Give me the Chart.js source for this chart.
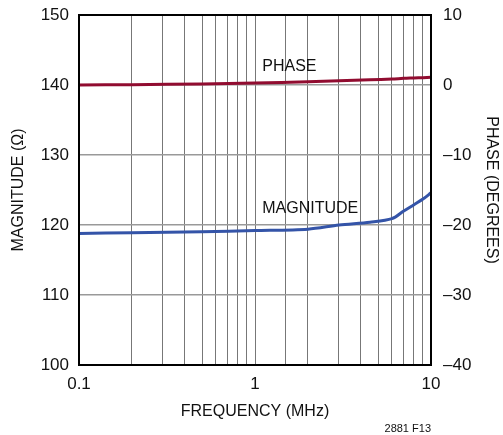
<!DOCTYPE html>
<html>
<head>
<meta charset="utf-8">
<script src="https://cdn.jsdelivr.net/npm/chart.js@4"></script>
<style>
  html, body { margin: 0; padding: 0; background: #fff; }
  #wrap { width: 503px; height: 435px; }
</style>
</head>
<body>
<div id="wrap"><canvas id="chart" width="503" height="435"></canvas></div>
<script>
// Frequency points (MHz)
const freq = [0.1, 0.2, 0.5, 1, 2, 3, 4.5, 6, 7, 8, 9, 10];
// Magnitude (ohms)
const magnitude = [118.8, 118.9, 119.05, 119.2, 119.4, 120.0, 120.4, 120.9, 122.0, 122.9, 123.7, 124.6];
// Phase (degrees)
const phase = [0.0, 0.05, 0.15, 0.3, 0.45, 0.6, 0.75, 0.85, 0.95, 1.0, 1.05, 1.1];

const leftTicks = [100, 110, 120, 130, 140, 150];
const rightTicks = [-40, -30, -20, -10, 0, 10];
const xLabels = [0.1, 1, 10];

const FONT = "'Liberation Sans Narrow', 'Liberation Sans', Arial, sans-serif";

const toPts = (ys) => freq.map((f, i) => ({ x: f, y: ys[i] }));

// fixed axis box sizes, no label overhang padding
const fixY = (w) => (s) => { s.width = w; s.paddingTop = 0; s.paddingBottom = 0; };

// Frame + curve labels
const extras = {
    id: "extras",
    afterDraw(chart) {
        const { ctx, chartArea: a, scales } = chart;
        ctx.save();
        ctx.strokeStyle = "#000";
        ctx.lineWidth = 2;
        ctx.strokeRect(a.left, a.top, a.right - a.left, a.bottom - a.top);

        ctx.fillStyle = "#111";
        ctx.font = "16px " + FONT;
        ctx.textBaseline = "middle";
        ctx.textAlign = "left";
        ctx.fillText("PHASE", scales.x.getPixelForValue(1.1), scales.y2.getPixelForValue(2.7));
        ctx.fillText("MAGNITUDE", scales.x.getPixelForValue(1.1), scales.y.getPixelForValue(122.3));

        ctx.font = "11px " + FONT;
        ctx.textAlign = "right";
        ctx.fillText("2881 F13", a.right, 429);
        ctx.restore();
    }
};

new Chart(document.getElementById("chart"), {
    type: "line",
    data: {
        datasets: [
            {
                label: "Magnitude",
                data: toPts(magnitude),
                yAxisID: "y",
                borderColor: "rgb(52, 84, 168)",
                borderWidth: 3,
                pointRadius: 0,
                tension: 0.3,
            },
            {
                label: "Phase",
                data: toPts(phase),
                yAxisID: "y2",
                borderColor: "rgb(145, 12, 48)",
                borderWidth: 3,
                pointRadius: 0,
                tension: 0.3,
            },
        ],
    },
    options: {
        responsive: false,
        animation: false,
        layout: { padding: { top: 15, left: 0, right: 0, bottom: 14 } },
        plugins: {
            legend: { display: false },
            tooltip: { enabled: false },
        },
        scales: {
            x: {
                type: "logarithmic",
                min: 0.1,
                max: 10,
                grid: { color: "#777", lineWidth: 1, drawTicks: false },
                border: { display: false },
                ticks: {
                    autoSkip: false,
                    maxRotation: 0,
                    padding: 9,
                    color: "#111",
                    font: { family: FONT, size: 17 },
                    callback: (v) => (xLabels.includes(Number(v)) ? String(v) : ""),
                },
                title: {
                    display: true,
                    text: "FREQUENCY (MHz)",
                    color: "#111",
                    font: { family: FONT, size: 16 },
                    padding: { top: 6, bottom: 0 },
                },
                afterFit: (s) => { s.height = 56; s.paddingLeft = 0; s.paddingRight = 0; },
            },
            y: {
                position: "left",
                min: 100,
                max: 150,
                afterBuildTicks: (s) => { s.ticks = leftTicks.map((v) => ({ value: v })); },
                grid: { color: "#999", lineWidth: 1.5, drawTicks: false },
                border: { display: false },
                ticks: {
                    padding: 10,
                    color: "#111",
                    font: { family: FONT, size: 17 },
                },
                title: {
                    display: true,
                    text: "MAGNITUDE (Ω)",
                    color: "#111",
                    font: { family: FONT, size: 16 },
                    padding: { top: 9, bottom: 0 },
                },
                afterFit: fixY(79),
            },
            y2: {
                position: "right",
                min: -40,
                max: 10,
                afterBuildTicks: (s) => { s.ticks = rightTicks.map((v) => ({ value: v })); },
                grid: { display: false, drawTicks: false },
                border: { display: false },
                ticks: {
                    padding: 12,
                    color: "#111",
                    font: { family: FONT, size: 17 },
                    callback: (v) => String(v).replace("-", "\u2013"),
                },
                title: {
                    display: true,
                    text: "PHASE (DEGREES)",
                    color: "#111",
                    font: { family: FONT, size: 16 },
                    padding: { top: 2, bottom: 0 },
                },
                afterFit: fixY(72),
            },
        },
    },
    plugins: [extras],
});
</script>
</body>
</html>
